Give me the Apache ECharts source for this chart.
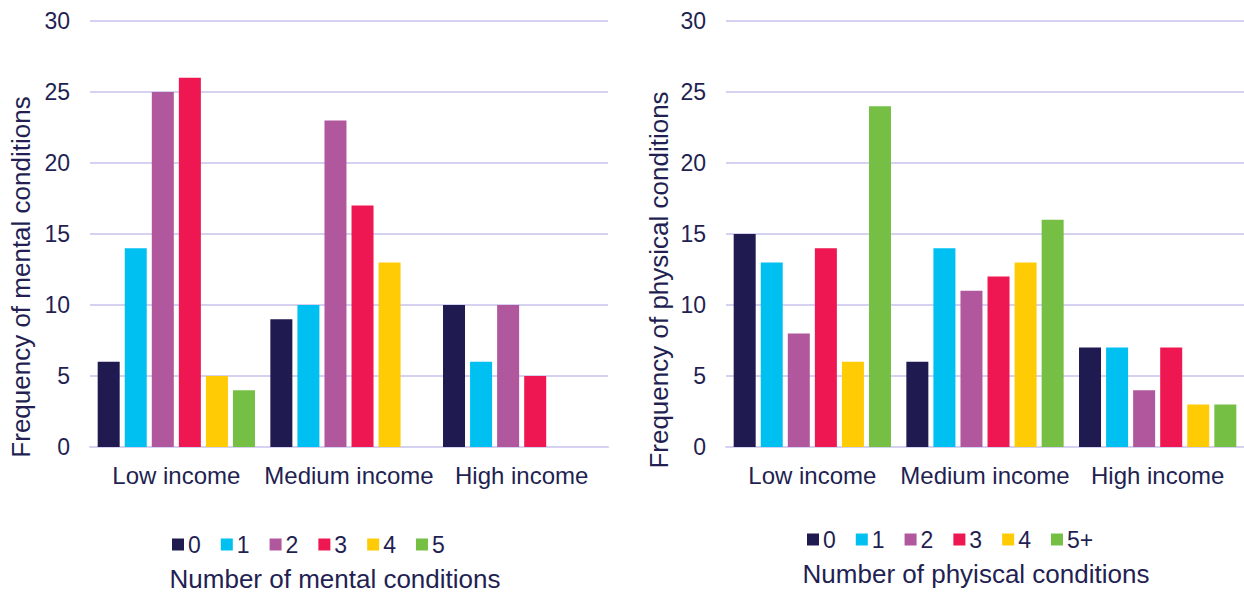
<!DOCTYPE html>
<html>
<head>
<meta charset="utf-8">
<script src="https://cdn.jsdelivr.net/npm/echarts@6/dist/echarts.min.js"></script>
<style>
  html, body { margin: 0; padding: 0; background: #ffffff; }
  #chart { width: 1244px; height: 593px; }
</style>
</head>
<body>
<div id="chart"></div>
<script>
// Income groups on the category axis
const incomeGroups = ['Low income', 'Medium income', 'High income'];

// Legend levels
const mentalLevels = ['0', '1', '2', '3', '4', '5'];
const physicalLevels = ['0', '1', '2', '3', '4', '5+'];

// Frequency of mental conditions, per number of conditions (Low, Medium, High)
const mental0 = [6, 9, 10];
const mental1 = [14, 10, 6];
const mental2 = [25, 23, 10];
const mental3 = [26, 17, 5];
const mental4 = [5, 13, 0];
const mental5 = [4, 0, 0];

// Frequency of physical conditions, per number of conditions (Low, Medium, High)
const physical0 = [15, 6, 7];
const physical1 = [13, 14, 7];
const physical2 = [8, 11, 4];
const physical3 = [14, 12, 7];
const physical4 = [6, 13, 3];
const physical5plus = [24, 16, 3];

// Y axis ticks
const yMin = 0, yMax = 30, yStep = 5;

const levelColors = ['#1f1a50', '#00c0f2', '#b1579e', '#ee1751', '#ffcb05', '#74bf44'];
const textColor = '#231f52';
const gridColor = '#d5d1f0';
const fontFamily = '"Liberation Sans", Arial, sans-serif';

const mentalSeriesData = [mental0, mental1, mental2, mental3, mental4, mental5];
const physicalSeriesData = [physical0, physical1, physical2, physical3, physical4, physical5plus];

function makeSeries(levels, dataSets, axisIndex) {
  return levels.map((name, i) => ({
    name: name,
    type: 'bar',
    xAxisIndex: axisIndex,
    yAxisIndex: axisIndex,
    data: dataSets[i],
    barWidth: 22,
    barGap: '23%',
    itemStyle: { color: levelColors[i] }
  }));
}

function makeXAxis(gridIndex) {
  return {
    type: 'category',
    gridIndex: gridIndex,
    data: incomeGroups,
    axisTick: { show: false },
    axisLine: { show: true, lineStyle: { color: gridColor, width: 2 } },
    axisLabel: { interval: 0, color: textColor, fontSize: 24, fontFamily: fontFamily, margin: 16 }
  };
}

function makeYAxis(gridIndex) {
  return {
    type: 'value',
    gridIndex: gridIndex,
    min: yMin,
    max: yMax,
    interval: yStep,
    axisLine: { show: false },
    axisTick: { show: false },
    splitLine: { lineStyle: { color: gridColor, width: 2 } },
    axisLabel: { color: textColor, fontSize: 23, fontFamily: fontFamily, margin: 20 }
  };
}

function legendFor(levels, left, top) {
  return {
    data: levels,
    left: left,
    top: top,
    padding: 0,
    itemWidth: 12,
    itemHeight: 12,
    itemGap: 20,
    icon: 'rect',
    selectedMode: false,
    textStyle: { color: textColor, fontSize: 23, fontFamily: fontFamily, padding: [0, 0, 0, -1] }
  };
}

function label(text, x, y, rotation, size) {
  return {
    type: 'text',
    x: x,
    y: y,
    rotation: rotation,
    style: {
      text: text,
      fill: textColor,
      font: size + 'px ' + fontFamily,
      textAlign: 'center',
      textVerticalAlign: 'middle'
    }
  };
}

const chart = echarts.init(document.getElementById('chart'), null, { renderer: 'svg' });

chart.setOption({
  animation: false,
  backgroundColor: '#ffffff',
  grid: [
    { left: 90, top: 21, width: 518, height: 426 },
    { left: 726, top: 21, width: 520, height: 426 }
  ],
  xAxis: [makeXAxis(0), makeXAxis(1)],
  yAxis: [makeYAxis(0), makeYAxis(1)],
  legend: [
    legendFor(mentalLevels, 172, 533),
    legendFor(physicalLevels, 807, 528)
  ],
  graphic: [
    label('Frequency of mental conditions', 21, 277, Math.PI / 2, 26),
    label('Frequency of physical conditions', 659, 280, Math.PI / 2, 26),
    label('Number of mental conditions', 335, 579, 0, 26),
    label('Number of phyiscal conditions', 976, 574, 0, 26)
  ],
  series: [
    ...makeSeries(mentalLevels, mentalSeriesData, 0),
    ...makeSeries(physicalLevels, physicalSeriesData, 1)
  ]
});
</script>
</body>
</html>
